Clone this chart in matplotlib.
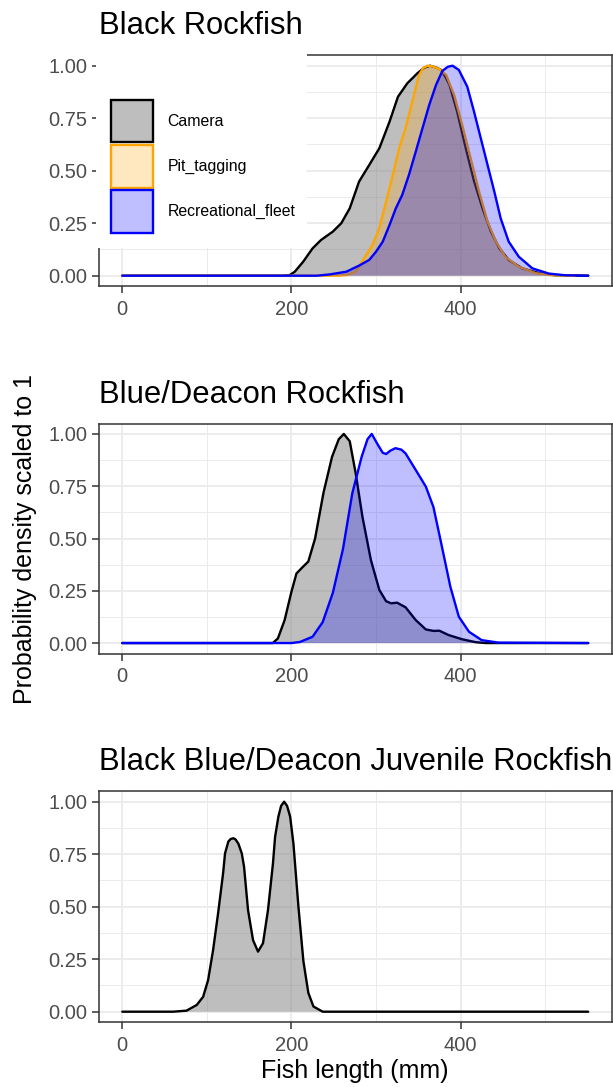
import matplotlib as mpl
mpl.use('Agg')
import matplotlib.pyplot as plt
from matplotlib.patches import Rectangle
from matplotlib.colors import to_rgba

plt.rcParams['font.family'] = ['Liberation Sans', 'DejaVu Sans']

# ---- data (fish length mm, density scaled to 1) ----
titles = ['Black Rockfish', 'Blue/Deacon Rockfish', 'Black Blue/Deacon Juvenile Rockfish']
groups = ['Camera', 'Pit_tagging', 'Recreational_fleet']

# Black Rockfish
black_cam_x = [0, 190, 198, 204, 214, 225, 235, 249, 259, 269, 280, 292, 304, 316, 326, 337, 349, 357,
               364, 372, 377, 383, 387, 396, 406, 416, 426, 436, 446, 457, 473, 493, 512, 551]
black_cam_y = [0, 0, 0.003, 0.019, 0.067, 0.13, 0.17, 0.21, 0.25, 0.321, 0.448, 0.527, 0.607, 0.733, 0.852,
               0.916, 0.964, 0.99, 1.0, 0.99, 0.98, 0.94, 0.908, 0.781, 0.61, 0.45, 0.321, 0.21, 0.13,
               0.075, 0.035, 0.012, 0.002, 0]
black_pit_x = [0, 255, 265, 276, 286, 296, 304, 312, 320, 327.5, 335, 343, 351, 356, 361, 367, 375, 383,
               392.5, 402, 412, 422, 432, 442, 453, 469, 489, 508, 535]
black_pit_y = [0, 0, 0.003, 0.019, 0.083, 0.146, 0.226, 0.352, 0.48, 0.607, 0.702, 0.829, 0.956, 0.99,
               1.0, 0.997, 0.984, 0.956, 0.86, 0.718, 0.559, 0.40, 0.257, 0.162, 0.09, 0.043, 0.012,
               0.002, 0]
black_rec_x = [0, 230, 245, 265, 280, 292, 300, 308, 316, 323.5, 331, 339, 347, 355, 363, 371, 378.5,
               385, 390.5, 398, 408, 416, 424, 432, 440, 447.5, 457, 469, 485, 504.5, 524, 551]
black_rec_y = [0, 0, 0.006, 0.019, 0.048, 0.075, 0.114, 0.162, 0.241, 0.321, 0.384, 0.48, 0.59, 0.702,
               0.813, 0.908, 0.975, 0.995, 1.0, 0.98, 0.9, 0.781, 0.654, 0.527, 0.40, 0.273, 0.162,
               0.09, 0.035, 0.010, 0.002, 0]

# Blue/Deacon Rockfish
blue_cam_x = [0, 170, 178, 184, 192, 200, 206, 213, 220, 228, 238, 248, 256, 262, 269, 276, 284, 294,
              304, 312, 318, 325, 335, 347, 359, 368, 375, 386, 402, 418, 430, 551]
blue_cam_y = [0, 0, 0.0, 0.022, 0.11, 0.245, 0.333, 0.362, 0.39, 0.5, 0.72, 0.89, 0.975, 1.0, 0.965,
              0.812, 0.604, 0.397, 0.254, 0.2, 0.19, 0.193, 0.171, 0.11, 0.065, 0.058, 0.059, 0.038,
              0.018, 0.004, 0, 0]
blue_rec_x = [0, 200, 210, 225, 237, 249, 261, 272, 283, 290, 295, 302, 308, 312, 317, 323, 330, 335,
              347, 359, 368, 378, 388, 398, 410, 425, 445, 551]
blue_rec_y = [0, 0, 0.005, 0.03, 0.10, 0.24, 0.45, 0.716, 0.89, 0.975, 1.0, 0.95, 0.91, 0.904, 0.92,
              0.932, 0.925, 0.907, 0.828, 0.748, 0.65, 0.461, 0.269, 0.126, 0.054, 0.014, 0.002, 0]

# Juveniles
juv_cam_x = [0, 60, 76, 88, 95.6, 101.5, 107.4, 113.3, 119.2, 121.5, 125.4, 128, 131.4, 134, 137.3,
             141.3, 144, 148.7, 154.6, 160.5, 166.4, 172.3, 178.2, 180.7, 184.6, 187.8, 191.4, 194.9,
             198.5, 202.4, 208.3, 214.2, 220, 226, 237, 551]
juv_cam_y = [0, 0, 0.005, 0.032, 0.071, 0.151, 0.294, 0.469, 0.659, 0.754, 0.81, 0.822, 0.826, 0.82,
             0.80, 0.754, 0.69, 0.484, 0.341, 0.286, 0.326, 0.484, 0.707, 0.833, 0.929, 0.98, 1.0,
             0.98, 0.929, 0.80, 0.50, 0.24, 0.09, 0.025, 0.0, 0]

panels = [
    [('Camera', black_cam_x, black_cam_y), ('Pit_tagging', black_pit_x, black_pit_y),
     ('Recreational_fleet', black_rec_x, black_rec_y)],
    [('Camera', blue_cam_x, blue_cam_y), ('Recreational_fleet', blue_rec_x, blue_rec_y)],
    [('Camera', juv_cam_x, juv_cam_y)],
]

line_col = {'Camera': 'black', 'Pit_tagging': '#FFA500', 'Recreational_fleet': '#0000FF'}
fill_col = {'Camera': to_rgba('#7F7F7F', 0.5), 'Pit_tagging': to_rgba('#FFA500', 0.25),
            'Recreational_fleet': to_rgba('#0000FF', 0.25)}

W, H = 613, 1087
fig = plt.figure(figsize=(W / 100, H / 100), dpi=100)

def px_axes(left, top, right, bottom):
    return fig.add_axes([left / W, 1 - bottom / H, (right - left) / W, (bottom - top) / H])

boxes = [(99, 55.2, 611.5, 286.2), (99, 423.5, 611.5, 653.5), (99, 791.2, 611.5, 1022.2)]

for box, title, series in zip(boxes, titles, panels):
    ax = px_axes(*box)
    for k, (name, xs, ys) in enumerate(series):
        ax.fill_between(xs, ys, 0, facecolor=fill_col[name], edgecolor='none', zorder=2 + k)
        ax.plot(xs, ys, color=line_col[name], lw=1.7, zorder=2.5 + k,
                solid_joinstyle='round', solid_capstyle='round')
    ax.set_xlim(-27.55, 578.55)
    ax.set_ylim(-0.05, 1.05)
    ax.set_xticks([0, 200, 400])
    ax.set_xticks([100, 300, 500], minor=True)
    ax.set_yticks([0, 0.25, 0.5, 0.75, 1.0])
    ax.set_yticklabels(['0.00', '0.25', '0.50', '0.75', '1.00'])
    ax.set_yticks([0.125, 0.375, 0.625, 0.875], minor=True)
    ax.grid(which='major', color='#EBEBEB', lw=1.3)
    ax.grid(which='minor', color='#EBEBEB', lw=0.7)
    ax.set_axisbelow(True)
    for sp in ax.spines.values():
        sp.set_color('#333333')
        sp.set_linewidth(1.1)
    ax.tick_params(which='major', length=5, width=1.1, color='#333333', labelcolor='#4D4D4D',
                   labelsize=14.5)
    ax.tick_params(axis='x', pad=5)
    ax.tick_params(axis='y', pad=3.5)
    ax.tick_params(which='minor', length=0)
    ax.set_title(title, loc='left', fontsize=22.3, pad=15, color='black')

# legend box overlapping the first panel
fig.add_artist(Rectangle((95.5 / W, 1 - 248 / H), (307 - 95.5) / W, (248 - 45) / H,
                         transform=fig.transFigure, facecolor='white', edgecolor='none', zorder=3))
key_tops = [100, 145.5, 190.5]
for name, top in zip(groups, key_tops):
    fig.add_artist(Rectangle((110.7 / W, 1 - (top + 42) / H), 42.6 / W, 42 / H,
                             transform=fig.transFigure, facecolor=fill_col[name],
                             edgecolor=line_col[name], lw=1.7, zorder=4))
    fig.text(167.3 / W, 1 - (top + 21) / H, name, fontsize=11.4, va='center', ha='left', zorder=5)

fig.text(25 / W, 1 - 538.5 / H, 'Probability density scaled to 1', rotation=90, fontsize=18,
         ha='center', va='center')
fig.text(355 / W, 1 - 1071 / H, 'Fish length (mm)', fontsize=18, ha='center', va='center')

fig.savefig('out.png', dpi=100)
